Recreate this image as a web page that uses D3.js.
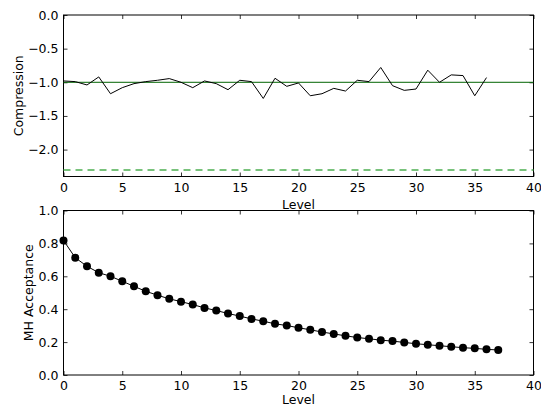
<!DOCTYPE html>
<html>
<head>
<meta charset="utf-8">
<script src="https://cdn.jsdelivr.net/npm/d3@7"></script>
<style>
  body { margin: 0; background: #fff; }
  svg { display: block; }
  svg, svg text { font-family: "DejaVu Sans", sans-serif; }
</style>
</head>
<body>
<div id="chart"></div>
<script>
// values
const compression = [-0.98, -0.99, -1.04, -0.92, -1.17, -1.08, -1.02, -0.99, -0.97, -0.945,
  -1.0, -1.08, -0.98, -1.02, -1.11, -0.97, -0.99, -1.24, -0.94, -1.06,
  -1.01, -1.20, -1.17, -1.09, -1.13, -0.97, -0.99, -0.78, -1.05, -1.12,
  -1.10, -0.82, -1.0, -0.89, -0.90, -1.20, -0.93];
const acceptance = [0.818, 0.713, 0.661, 0.622, 0.60, 0.57, 0.539, 0.509, 0.485, 0.463,
  0.446, 0.428, 0.408, 0.392, 0.374, 0.358, 0.341, 0.327, 0.311, 0.301,
  0.287, 0.275, 0.261, 0.25, 0.238, 0.228, 0.22, 0.212, 0.206, 0.198,
  0.19, 0.184, 0.178, 0.172, 0.166, 0.162, 0.156, 0.152];
const targetLine = -1.0;
const floorLine = Math.log(0.1);
const xTicks = [0, 5, 10, 15, 20, 25, 30, 35, 40];
const topTicks = [0, -0.5, -1.0, -1.5, -2.0];
const bottomTicks = [0, 0.2, 0.4, 0.6, 0.8, 1.0];

const width = 541, height = 407;
const left = 63.5, right = 533.5;
const fontSize = 12.5;

const svg = d3.select("#chart").append("svg")
  .attr("width", width)
  .attr("height", height);

const fmt = d => d3.format(".1f")(d).replace("-", "\u2212");

const panel = (top, bottom, yDomain, yTicks, yLabel, labelX) => {
  const x = d3.scaleLinear().domain([0, 40]).range([left, right]);
  const y = d3.scaleLinear().domain(yDomain).range([bottom, top]);
  const g = svg.append("g");

  // ticks inside, on all four sides
  g.append("g").attr("transform", `translate(0,${bottom})`)
    .call(d3.axisBottom(x).tickValues(xTicks).tickSizeInner(-4).tickSizeOuter(0).tickPadding(6.5).tickFormat(d3.format("d")));
  g.append("g").attr("transform", `translate(0,${top})`)
    .call(d3.axisTop(x).tickValues(xTicks).tickSizeInner(-4).tickSizeOuter(0).tickFormat(""));
  g.append("g").attr("transform", `translate(${left},0)`)
    .call(d3.axisLeft(y).tickValues(yTicks).tickSizeInner(-4).tickSizeOuter(0).tickPadding(5).tickFormat(fmt));
  g.append("g").attr("transform", `translate(${right},0)`)
    .call(d3.axisRight(y).tickValues(yTicks).tickSizeInner(-4).tickSizeOuter(0).tickFormat(""));

  g.selectAll(".domain").remove();
  g.selectAll("g").attr("font-family", "DejaVu Sans").attr("font-size", fontSize);
  g.selectAll(".tick line").attr("stroke", "#000").attr("stroke-width", 0.8);
  g.selectAll(".tick text").attr("fill", "#000");

  g.append("rect")
    .attr("x", left).attr("y", top)
    .attr("width", right - left).attr("height", bottom - top)
    .attr("fill", "none").attr("stroke", "#000").attr("stroke-width", 1);

  // keep the lower "Level" inside the picture
  g.append("text")
    .attr("x", (left + right) / 2).attr("y", Math.min(bottom + 32, height - 3))
    .attr("text-anchor", "middle").attr("font-size", fontSize)
    .text("Level");
  g.append("text")
    .attr("transform", `translate(${labelX},${(top + bottom) / 2}) rotate(-90)`)
    .attr("text-anchor", "middle").attr("font-size", fontSize)
    .text(yLabel);

  return { x, y, g };
};

// top: compression
const p1 = panel(15, 176.5, [-2.4, 0], topTicks, "Compression", 22.5);
p1.g.append("line")
  .attr("x1", left).attr("x2", right)
  .attr("y1", p1.y(targetLine)).attr("y2", p1.y(targetLine))
  .attr("stroke", "#006400").attr("stroke-width", 1);
p1.g.append("line")
  .attr("x1", left).attr("x2", right)
  .attr("y1", p1.y(floorLine)).attr("y2", p1.y(floorLine))
  .attr("stroke", "#4caf50").attr("stroke-width", 1.4)
  .attr("stroke-dasharray", "7,5");
p1.g.append("path")
  .datum(compression)
  .attr("fill", "none").attr("stroke", "#000").attr("stroke-width", 1)
  .attr("d", d3.line().x((d, i) => p1.x(i)).y(d => p1.y(d)));

// bottom: MH acceptance
const p2 = panel(210.5, 375, [0, 1], bottomTicks, "MH Acceptance", 32.5);
p2.g.append("path")
  .datum(acceptance)
  .attr("fill", "none").attr("stroke", "#000").attr("stroke-width", 1)
  .attr("d", d3.line().x((d, i) => p2.x(i)).y(d => p2.y(d)));
p2.g.append("g")
  .selectAll("circle")
  .data(acceptance)
  .join("circle")
    .attr("cx", (d, i) => p2.x(i))
    .attr("cy", d => p2.y(d))
    .attr("r", 4)
    .attr("fill", "#000");
</script>
</body>
</html>
